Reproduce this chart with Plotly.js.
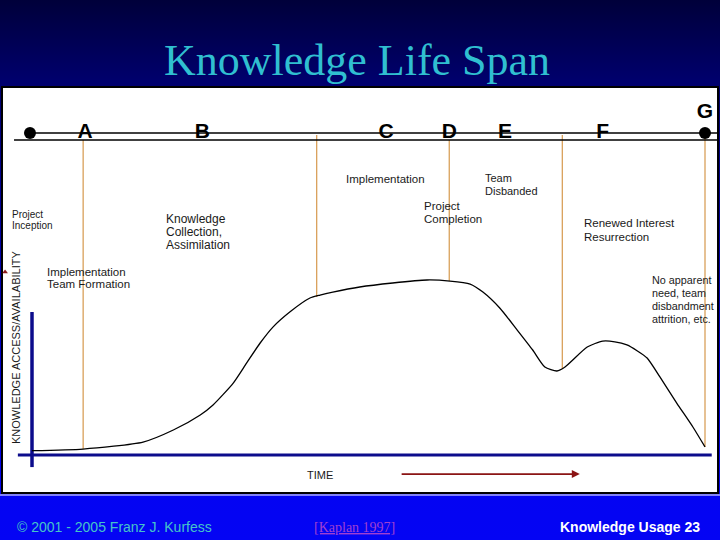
<!DOCTYPE html>
<html>
<head>
<meta charset="utf-8">
<script src="https://cdn.plot.ly/plotly-3.0.1.min.js"></script>
<style>
html,body{margin:0;padding:0;width:720px;height:540px;overflow:hidden;
background:linear-gradient(to bottom,#00003a 0%,#000070 16%,#0000d8 75%,#0404f2 91%,#0404f4 100%);}
#chart{width:720px;height:540px;}
</style>
</head>
<body>
<div id="chart"></div>
<script>
// Knowledge access curve: time (0..100) vs access (0..100)
const curveTime = [0, 7.6, 16.5, 21.0, 25.0, 26.9, 29.9, 31.9, 33.9, 35.8, 38.3, 41.3, 42.8, 44.7, 48.7, 53.6, 58.7, 62.1, 65.1, 67.0, 69.5, 72.1, 74.4, 76.2, 78.0, 79.2, 82.5, 84.8, 86.6, 88.4, 89.9, 91.4, 93.3, 95.8, 98.2, 100];
const curveAccess = [2.5, 3.4, 7.4, 14.3, 22.9, 28.6, 41.1, 52.6, 64.0, 73.1, 81.7, 89.7, 91.4, 93.1, 96.0, 98.3, 100, 99.4, 97.7, 93.1, 84.0, 71.4, 60.0, 50.3, 48.0, 50.3, 61.7, 65.1, 64.7, 62.9, 59.6, 55.4, 44.6, 29.7, 16.0, 4.6];

// Milestone (vertical) lines
const milestoneTime = [7.6, 42.3, 62.0, 78.8, 100];
const milestoneTop = [180, 182.9, 180, 182.9, 185.7];
const milestoneBottom = [3.4, 90.3, 99.4, 49.1, 4.6];

// Phase letters
const phaseLetters = ["A", "B", "C", "D", "E", "F", "G"];
const phaseTime = [7.9, 25.3, 52.6, 62.0, 70.3, 84.8, 100];
const phaseLevel = [184.2, 184.2, 184.2, 184.2, 184.2, 184.2, 195.3];

// Timeline
const timelineLevels = [184, 180];
const timelineStart = [-0.3, -2.67];
const timelineEnd = [101.8, 101.8];
const endpointTime = [-0.3, 100];
const endpointLevel = [184, 184];

// Event labels (one entry per line)
const eventLines = [
  ["Project", "Inception"],
  ["Knowledge", "Collection,", "Assimilation"],
  ["Implementation", "Team Formation"],
  ["Implementation"],
  ["Project", "Completion"],
  ["Team", "Disbanded"],
  ["Renewed Interest", "Resurrection"],
  ["No apparent", "need, team", "disbandment", "attrition, etc."]
];
const eventTime = [-3.27, 19.6, 1.93, 46.4, 57.9, 67.0, 81.7, 91.8];
const eventLevel = [137.7, 134.7, 104.7, 157.7, 142.5, 158.1, 132.4, 100.0];

const S = 6.73, A = 1.75; // px per time unit, px per access unit (axis scaling)
const labelSize = [10, 12, 11.5, 11.5, 11.5, 11, 11.5, 10.8];
const labelGap = [11, 13, 12.5, 13, 13.5, 12.5, 13.4, 13]; // px between lines

const traces = [];
traces.push({x:[0,0], y:[81.7,-6.9], mode:'lines', line:{color:'#0c0c8c', width:3.5}, hoverinfo:'skip'});
traces.push({x:[-2.1,101.0], y:[0,0], mode:'lines', line:{color:'#0c0c8c', width:3}, hoverinfo:'skip'});
milestoneTime.forEach((t,i)=>{
  traces.push({x:[t,t], y:[milestoneTop[i], milestoneBottom[i]], mode:'lines', line:{color:'#d9a05a', width:1.3}, hoverinfo:'skip'});
});
timelineLevels.forEach((lv,i)=>{
  traces.push({x:[timelineStart[i], timelineEnd[i]], y:[lv,lv], mode:'lines', line:{color:'#000', width:1.6}, hoverinfo:'skip'});
});
traces.push({x:endpointTime, y:endpointLevel, mode:'markers', marker:{color:'#000', size:12}, hoverinfo:'skip'});
traces.push({x:curveTime, y:curveAccess, mode:'lines', line:{color:'#000', width:1.3, shape:'spline', smoothing:0.6}, hoverinfo:'skip'});
traces.push({x:phaseTime, y:phaseLevel, mode:'text', text:phaseLetters, textposition:'middle center',
  textfont:{family:'Liberation Sans, Arial', size:21, color:'#000', weight:'bold'}, hoverinfo:'skip'});
traces.push({x:[-4.0], y:[104.6], mode:'markers', marker:{symbol:'triangle-up', size:5, color:'#8b1a1a'}, hoverinfo:'skip'});

const annotations = [];
eventLines.forEach((lines,i)=>{
  lines.forEach((ln,j)=>{
    annotations.push({x:eventTime[i], y:eventLevel[i] - j*labelGap[i]/A, xref:'x', yref:'y', text:ln, showarrow:false,
      xanchor:'left', yanchor:'middle', align:'left', font:{family:'Liberation Sans, Arial', size:labelSize[i], color:'#1a1a1a'}});
  });
});
annotations.push({x:-2.38, y:61.7, xref:'x', yref:'y', text:'KNOWLEDGE ACCESS/AVAILABILITY', showarrow:false, textangle:-90,
  xanchor:'center', yanchor:'middle', font:{family:'Liberation Sans, Arial', size:11, color:'#1a1a1a'}});
annotations.push({x:42.8, y:-11.4, xref:'x', yref:'y', text:'TIME', showarrow:false, xanchor:'center', yanchor:'middle',
  font:{family:'Liberation Sans, Arial', size:11, color:'#1a1a1a'}});
annotations.push({x:81.4, y:-10.9, ax:54.7, ay:-10.9, xref:'x', yref:'y', axref:'x', ayref:'y', text:'', showarrow:true,
  arrowhead:2, arrowsize:1, arrowwidth:1.6, arrowcolor:'#8b1414'});
annotations.push({x:357/720, y:1-60/540, xref:'paper', yref:'paper', text:'Knowledge Life Span', showarrow:false,
  xanchor:'center', yanchor:'middle', font:{family:'Liberation Serif, Times New Roman, serif', size:44, color:'#30bfd0'}});
annotations.push({x:15/720, y:1-527/540, xref:'paper', yref:'paper', xanchor:'left', yanchor:'middle', text:'© 2001 - 2005 Franz J. Kurfess', showarrow:false,
  font:{family:'Liberation Sans, Arial', size:14, color:'#45c4c8'}});
annotations.push({x:354/720, y:1-527/540, xref:'paper', yref:'paper', xanchor:'center', yanchor:'middle', text:'<u>[Kaplan 1997]</u>', showarrow:false,
  font:{family:'Liberation Serif, Times New Roman, serif', size:14, color:'#a040d0'}});
annotations.push({x:630/720, y:1-527/540, xref:'paper', yref:'paper', xanchor:'center', yanchor:'middle', text:'<b>Knowledge Usage 23</b>', showarrow:false,
  font:{family:'Liberation Sans, Arial', size:14, color:'#ffffff'}});

const layout = {
  width:720, height:540, margin:{l:0,r:0,t:0,b:0},
  paper_bgcolor:'rgba(0,0,0,0)', plot_bgcolor:'rgba(0,0,0,0)',
  showlegend:false,
  xaxis:{range:[-32/S, (720-32)/S], visible:false, fixedrange:true},
  yaxis:{range:[(455-540)/A, 455/A], visible:false, fixedrange:true},
  shapes:[
    {type:'rect', xref:'paper', yref:'paper', x0:2/720, x1:718/720, y0:1-493/540, y1:1-87/540,
      fillcolor:'#ffffff', line:{color:'#000', width:2}, layer:'below'},
    {type:'line', xref:'paper', yref:'paper', x0:0, x1:1, y0:1-495/540, y1:1-495/540,
      line:{color:'#ffffff', width:1}, layer:'below'}
  ],
  annotations:annotations
};
Plotly.newPlot('chart', traces, layout, {staticPlot:true, displayModeBar:false});
</script>
</body>
</html>
